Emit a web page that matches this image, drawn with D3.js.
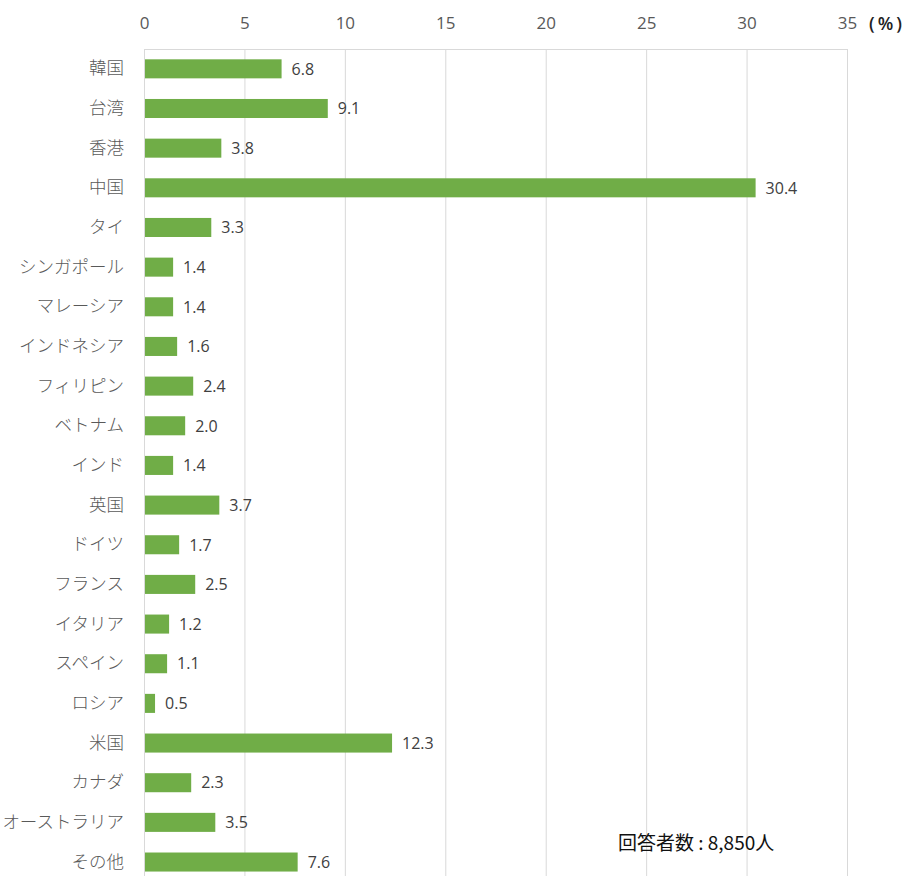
<!DOCTYPE html>
<html>
<head>
<meta charset="utf-8">
<script src="https://cdn.jsdelivr.net/npm/d3@7"></script>
<style>
  html, body { margin: 0; padding: 0; background: #fff; }
  svg { display: block; }
</style>
</head>
<body>
<svg id="chart" width="911" height="876"></svg>
<script>
// Destination shares (%)
const categories = ["韓国", "台湾", "香港", "中国", "タイ", "シンガポール", "マレーシア", "インドネシア", "フィリピン", "ベトナム", "インド", "英国", "ドイツ", "フランス", "イタリア", "スペイン", "ロシア", "米国", "カナダ", "オーストラリア", "その他"];
const values = [6.8, 9.1, 3.8, 30.4, 3.3, 1.4, 1.4, 1.6, 2.4, 2.0, 1.4, 3.7, 1.7, 2.5, 1.2, 1.1, 0.5, 12.3, 2.3, 3.5, 7.6];
const tickValues = [0, 5, 10, 15, 20, 25, 30, 35];
const unitLabel = "(%)";
const noteText = "回答者数 : 8,850人";

const svg = d3.select("#chart");
const plotLeft = 144, plotRight = 847, plotTop = 49;
const step = 39.66;
const plotBottom = plotTop + step * categories.length;

const x = d3.scaleLinear().domain([0, 35]).range([plotLeft, plotRight]);
const y = d3.scaleBand().domain(categories).range([plotTop, plotBottom]).paddingInner(0.52).paddingOuter(0.26);

const jp = "'Noto Sans CJK JP', 'Noto Sans', sans-serif";
const num = "'Open Sans', 'Noto Sans', sans-serif";

// gridlines
svg.append("g")
  .selectAll("line")
  .data(tickValues)
  .join("line")
  .attr("x1", d => x(d) + 0.5).attr("x2", d => x(d) + 0.5)
  .attr("y1", plotTop).attr("y2", 876)
  .attr("stroke", "#d9d9d9").attr("stroke-width", 1);

svg.append("line")
  .attr("x1", plotLeft).attr("x2", x(35) + 1)
  .attr("y1", plotTop + 0.5).attr("y2", plotTop + 0.5)
  .attr("stroke", "#d9d9d9");

// top axis labels
const xAxis = d3.axisTop(x).tickValues(tickValues).tickSize(0).tickPadding(0);
const gx = svg.append("g").attr("transform", `translate(0, 29)`).call(xAxis);
gx.select(".domain").remove();
gx.selectAll("text")
  .attr("font-family", num).attr("font-size", 17).attr("fill", "#595959");

svg.append("text")
  .attr("x", 869).attr("y", 30)
  .attr("font-family", num).attr("font-size", 18).attr("font-weight", 600)
  .attr("letter-spacing", 3).attr("fill", "#222")
  .text(unitLabel);

// category labels
const yAxis = d3.axisLeft(y).tickSize(0).tickPadding(0);
const gy = svg.append("g").attr("transform", `translate(124, 0)`).call(yAxis);
gy.select(".domain").remove();
gy.selectAll("text")
  .attr("font-family", jp).attr("font-size", 17.5).attr("font-weight", 300).attr("fill", "#595959");

// bars
svg.append("g")
  .selectAll("rect")
  .data(values)
  .join("rect")
  .attr("x", x(0) + 1)
  .attr("y", (d, i) => y(categories[i]))
  .attr("width", d => x(d) - x(0))
  .attr("height", y.bandwidth())
  .attr("fill", "#70ad47");

// value labels
svg.append("g")
  .selectAll("text")
  .data(values)
  .join("text")
  .attr("x", d => x(d) + 11)
  .attr("y", (d, i) => y(categories[i]) + y.bandwidth() / 2)
  .attr("dy", "0.36em")
  .attr("font-family", num).attr("font-size", 16).attr("fill", "#404040")
  .text(d => d.toFixed(1));

// respondent count note
svg.append("text")
  .attr("x", 618).attr("y", 850)
  .attr("font-family", jp).attr("font-size", 19).attr("font-weight", 400).attr("fill", "#111")
  .text(noteText);
</script>
</body>
</html>
